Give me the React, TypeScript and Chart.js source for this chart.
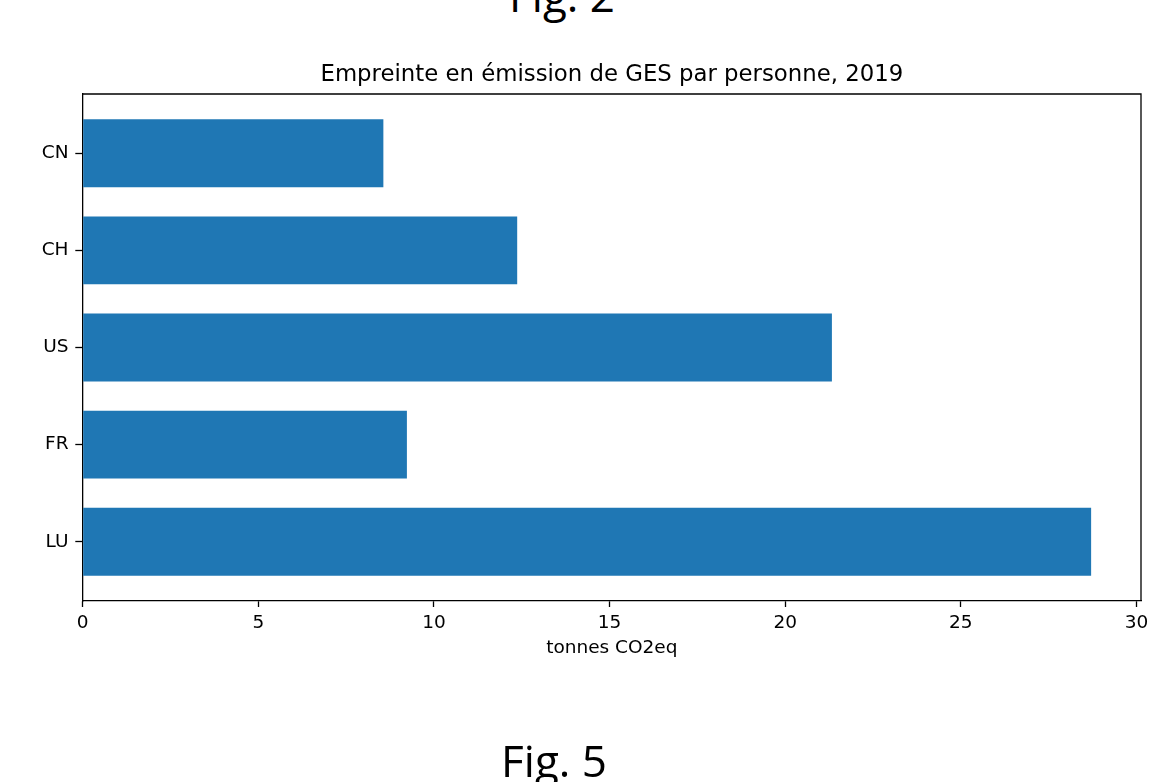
import React, { useEffect, useRef } from "react";
import { Chart, registerables } from "chart.js";

Chart.register(...registerables);

// Countries from bottom (index 0) to top (index 4)
const countries = ["LU", "FR", "US", "CH", "CN"];
// Footprint per person, tonnes CO2eq
const footprint = [28.71, 9.23, 21.33, 12.37, 8.56];
const xTicks = [0, 5, 10, 15, 20, 25, 30];

const TITLE = "Empreinte en émission de GES par personne, 2019";
const X_LABEL = "tonnes CO2eq";
const BAR_COLOR = "#1f77b4";
const TEXT_FONT = "'DejaVu Sans', sans-serif";

// Closes the frame with top/right spines and centres the title over the plot area
const framePlugin = {
  id: "frame",
  afterDraw(chart: any) {
    const { ctx, chartArea } = chart;
    ctx.save();
    ctx.strokeStyle = "#000";
    ctx.lineWidth = 1.3;
    ctx.beginPath();
    ctx.moveTo(chartArea.left, chartArea.top);
    ctx.lineTo(chartArea.right, chartArea.top);
    ctx.lineTo(chartArea.right, chartArea.bottom);
    ctx.stroke();

    ctx.fillStyle = "#000";
    ctx.font = `22.8px ${TEXT_FONT}`;
    ctx.textAlign = "center";
    ctx.textBaseline = "middle";
    ctx.fillText(TITLE, (chartArea.left + chartArea.right) / 2, chartArea.top - 19);
    ctx.restore();
  },
};

export default function App() {
  const canvasRef = useRef<HTMLCanvasElement | null>(null);

  useEffect(() => {
    const canvas = canvasRef.current;
    if (!canvas) return;
    const chart = new Chart(canvas, {
      type: "bar",
      data: {
        datasets: [
          {
            data: footprint.map((v, i) => ({ x: v, y: i })),
            backgroundColor: BAR_COLOR,
            borderWidth: 0,
            categoryPercentage: 1,
            barPercentage: 0.7,
          },
        ],
      },
      plugins: [framePlugin],
      options: {
        indexAxis: "y",
        animation: false,
        responsive: false,
        maintainAspectRatio: false,
        layout: { padding: { left: 0, right: 10, top: 94, bottom: 121 } },
        plugins: {
          legend: { display: false },
          tooltip: { enabled: false },
          title: { display: false },
        },
        scales: {
          x: {
            type: "linear",
            min: 0,
            max: 30.13,
            offset: false,
            afterFit(scale: any) {
              scale.height = 60;
              scale.paddingLeft = 0;
              scale.paddingRight = 0;
            },
            afterBuildTicks(scale: any) {
              scale.ticks = xTicks.map((v) => ({ value: v }));
            },
            ticks: {
              color: "#000",
              font: { family: TEXT_FONT, size: 18.5 },
              padding: 5.5,
              maxRotation: 0,
              includeBounds: false,
            },
            grid: {
              offset: false,
              drawOnChartArea: false,
              drawTicks: true,
              tickLength: 6,
              tickWidth: 1.3,
              tickColor: "#000",
            },
            border: { display: true, color: "#000", width: 1.3 },
            title: {
              display: true,
              text: X_LABEL,
              color: "#000",
              font: { family: TEXT_FONT, size: 18.5, lineHeight: 1.2 },
              padding: { top: 0, bottom: 1.5 },
            },
          },
          y: {
            type: "linear",
            min: -0.61,
            max: 4.61,
            offset: false,
            afterFit(scale: any) {
              scale.width = 82.7;
              scale.paddingTop = 0;
              scale.paddingBottom = 0;
            },
            afterBuildTicks(scale: any) {
              scale.ticks = countries.map((_, i) => ({ value: i }));
            },
            ticks: {
              color: "#000",
              font: { family: TEXT_FONT, size: 18.5 },
              padding: 6.8,
              callback: (v: any) => countries[Math.round(Number(v))] ?? "",
            },
            grid: {
              offset: false,
              drawOnChartArea: false,
              drawTicks: true,
              tickLength: 7.4,
              tickWidth: 1.3,
              tickColor: "#000",
            },
            border: { display: true, color: "#000", width: 1.3 },
          },
        },
      },
    });
    return () => chart.destroy();
  }, []);

  const figStyle: React.CSSProperties = {
    position: "absolute",
    width: "200px",
    textAlign: "center",
    fontFamily: "'Open Sans', sans-serif",
    fontSize: "44px",
    lineHeight: "44px",
    color: "#000",
    whiteSpace: "nowrap",
  };

  return (
    <div
      style={{
        position: "fixed",
        left: 0,
        top: 0,
        width: "1151px",
        height: "782px",
        background: "#fff",
        overflow: "hidden",
      }}
    >
      <div style={{ ...figStyle, left: "462px", top: "-27px" }}>Fig. 2</div>
      <canvas
        ref={canvasRef}
        width={1151}
        height={782}
        style={{ position: "absolute", left: 0, top: 0, width: "1151px", height: "782px" }}
      />
      <div style={{ ...figStyle, left: "454px", top: "738px" }}>Fig. 5</div>
    </div>
  );
}
